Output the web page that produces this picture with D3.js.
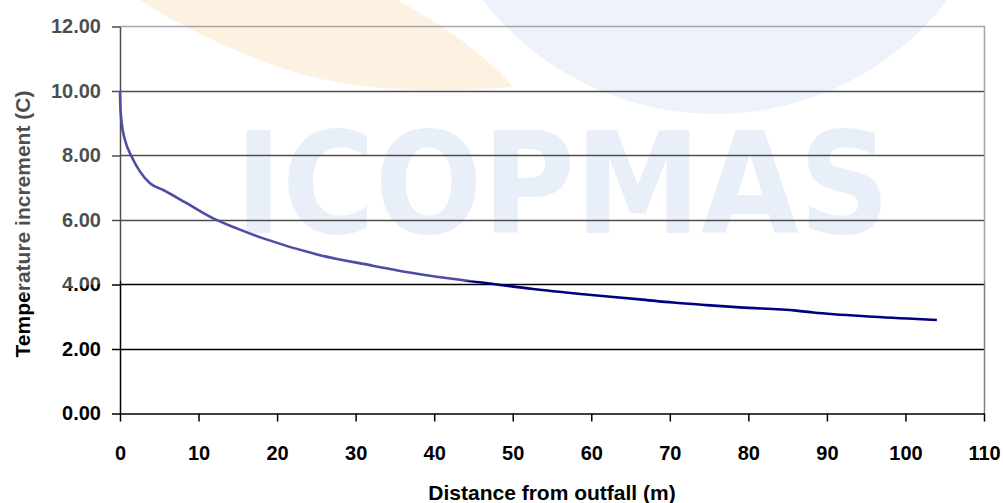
<!DOCTYPE html>
<html>
<head>
<meta charset="utf-8">
<script src="https://cdn.jsdelivr.net/npm/d3@7"></script>
<style>
  html, body { margin: 0; padding: 0; background: #fff; }
  svg { display: block; }
  text { font-family: "Liberation Sans", Arial, sans-serif; font-weight: bold; }
</style>
</head>
<body>
<div id="chart"></div>
<script>
// Data
const distance = [0, 0.05, 0.22, 0.64, 1.49, 2.55, 3.82, 5.51, 8.49, 11.88, 14.86, 18.24,
    25.46, 31.83, 38.19, 45.8, 52.6, 59.0, 66.2, 70.4, 74.7, 78.9, 86.1, 88.3, 95.9, 104.0];
const temperature = [10.0, 9.5, 9.0, 8.48, 7.96, 7.50, 7.14, 6.93, 6.52, 6.05, 5.74, 5.43,
    4.91, 4.60, 4.32, 4.07, 3.86, 3.70, 3.54, 3.44, 3.36, 3.29, 3.19, 3.13, 3.00, 2.90];
const xTicks = [0, 10, 20, 30, 40, 50, 60, 70, 80, 90, 100, 110];
const yTicks = [0, 2, 4, 6, 8, 10, 12];
const xTitle = "Distance from outfall (m)";
const yTitle = "Temperature increment (C)";
const watermark = "ICOPMAS";

const width = 1003;
const height = 503;
const marginTop = 26.5;
const marginRight = 19;
const marginBottom = 89.5;
const marginLeft = 120;

const x = d3.scaleLinear()
    .domain([0, 110])
    .range([marginLeft, width - marginRight]);

const y = d3.scaleLinear()
    .domain([0, 12])
    .range([height - marginBottom, marginTop]);

const crisp = v => Math.round(v - 0.5) + 0.5;

const svg = d3.select("#chart").append("svg")
    .attr("width", width)
    .attr("height", height);

// faint logo behind the chart
const wm = svg.append("g");
wm.append("circle")
    .attr("cx", 715).attr("cy", -180).attr("r", 294)
    .attr("fill", "#e7eef9");
wm.append("path")
    .attr("d", "M140,0 C170,20 230,52 300,74 C360,90 430,94 513,87 C490,60 450,28 397,0 Z")
    .attr("fill", "#fcedd6");
wm.append("text")
    .attr("x", 235).attr("y", 233)
    .attr("textLength", 655)
    .attr("lengthAdjust", "spacingAndGlyphs")
    .style("font-family", "'DejaVu Sans Condensed', 'DejaVu Sans', sans-serif")
    .style("font-size", "141px")
    .attr("fill", "#e0e9f6")
    .text(watermark);

// gridlines
svg.append("g")
    .selectAll("line")
    .data(yTicks.filter(d => d > 0 && d < 12))
    .join("line")
    .attr("x1", x(0)).attr("x2", x(110))
    .attr("y1", d => crisp(y(d))).attr("y2", d => crisp(y(d)))
    .attr("stroke", "#000")
    .attr("stroke-width", 1.4);

// plot border (top and right)
svg.append("path")
    .attr("d", `M${x(0)},${crisp(y(12))}H${crisp(x(110))}V${y(0)}`)
    .attr("fill", "none")
    .attr("stroke", "#808080")
    .attr("stroke-width", 1.5);

// x axis
const xAxis = svg.append("g")
    .attr("transform", `translate(0,${y(0)})`)
    .call(d3.axisBottom(x).tickValues(xTicks).tickSize(8).tickSizeOuter(0).tickPadding(24));
xAxis.selectAll("text").style("font-size", "20px").attr("fill", "#000");
xAxis.selectAll("line, path").attr("stroke", "#000").attr("stroke-width", 1.5);

// y axis
const yAxis = svg.append("g")
    .attr("transform", `translate(${x(0)},0)`)
    .call(d3.axisLeft(y).tickValues(yTicks).tickFormat(d3.format(".2f")).tickSize(8).tickSizeOuter(0).tickPadding(11));
yAxis.selectAll("text").style("font-size", "20px").attr("fill", "#000");
yAxis.selectAll("line, path").attr("stroke", "#000").attr("stroke-width", 1.5);

// the curve
const points = distance.map((d, i) => [d, temperature[i]]);
svg.append("path")
    .datum(points)
    .attr("fill", "none")
    .attr("stroke", "#000080")
    .attr("stroke-width", 2.6)
    .attr("stroke-linejoin", "round")
    .attr("d", d3.line()
        .x(d => x(d[0]))
        .y(d => y(d[1]))
        .curve(d3.curveMonotoneX));

// axis titles
svg.append("text")
    .attr("x", (x(0) + x(110)) / 2)
    .attr("y", 500)
    .attr("text-anchor", "middle")
    .style("font-size", "21px")
    .text(xTitle);

svg.append("text")
    .attr("transform", `translate(30,${(y(0) + y(12)) / 2 + 4}) rotate(-90)`)
    .attr("text-anchor", "middle")
    .style("font-size", "21px")
    .text(yTitle);

// the logo image sits over the top of the chart and washes it out a little
svg.append("path")
    .attr("d", `M0,0H${width}V281H120L0,298Z`)
    .attr("fill", "#fff")
    .attr("fill-opacity", 0.3);
</script>
</body>
</html>
